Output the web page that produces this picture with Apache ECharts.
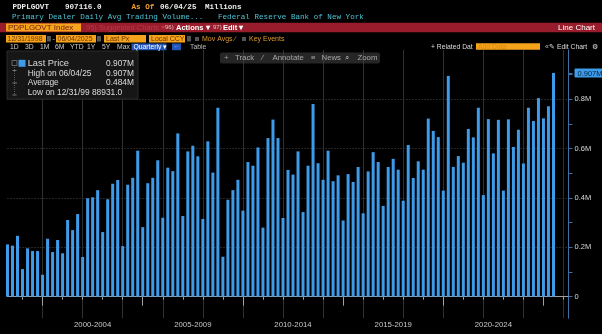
<!DOCTYPE html>
<html><head><meta charset="utf-8">
<script src="https://cdn.jsdelivr.net/npm/echarts@6/dist/echarts.min.js"></script>
<style>html,body{margin:0;padding:0;background:#000;overflow:hidden}#c{width:602px;height:334px}</style>
</head><body><div id="c"></div>
<script>
// ---- data ----
const quarters = [];
for (let y = 1998; y <= 2026; y++) for (let q = 1; q <= 4; q++) quarters.push(y + ' Q' + q);
quarters.length = 113; // 1998 Q1 .. 2026 Q1 (last three slots are empty)

// Quarterly average daily trading volume, millions of USD (reads as M on the axis)
const volumes = [
 0.212,0.207,0.247,0.112, 0.196,0.185,0.185,0.0889, 0.235,0.181,0.230,0.176, 0.311,0.270,0.335,0.161,
 0.399,0.403,0.432,0.262, 0.395,0.458,0.473,0.205, 0.454,0.482,0.592,0.282, 0.460,0.482,0.553,0.320,
 0.523,0.509,0.662,0.327, 0.589,0.612,0.569,0.315, 0.630,0.503,0.766,0.162, 0.393,0.432,0.474,0.349,
 0.546,0.531,0.605,0.280, 0.643,0.718,0.643,0.319, 0.514,0.495,0.589,0.343, 0.531,0.781,0.541,0.474,
 0.592,0.468,0.492,0.309, 0.497,0.465,0.526,0.338, 0.508,0.586,0.546,0.368, 0.526,0.559,0.515,0.389,
 0.615,0.481,0.549,0.515, 0.722,0.672,0.647,0.430, 0.895,0.526,0.570,0.543, 0.680,0.646,0.766,0.412,
 0.720,0.581,0.717,0.430, 0.719,0.607,0.677,0.540, 0.766,0.712,0.805,0.723, 0.772,0.907
];
const periodLabels = ['2000-2004','2005-2009','2010-2014','2015-2019','2020-2024'];
const yTickValues = [0,0.1,0.2,0.3,0.4,0.5,0.6,0.7,0.8,0.9];
const yLabelValues = [0,0.2,0.4,0.6,0.8];
const gridValues = [0,0.2,0.4,0.6,0.8];
const lastPrice = 0.907;
const legendRows = [
  ['Last Price','0.907M'],
  ['High on 06/04/25','0.907M'],
  ['Average','0.484M'],
  ['Low on 12/31/99 88931.0','']
];

// ---- chart ----
const barData = volumes.concat(new Array(quarters.length - volumes.length).fill(null));
const MONO = '"Liberation Mono", "DejaVu Sans Mono", monospace';
const SANS = '"Liberation Sans", Arial, sans-serif';
function T(text, x, y, fill, font, align, z) {
  return {type:'text', x:x, y:y, z:z||50, silent:true,
    style:{text:text, fill:fill, font:font, textAlign:align||'left', align:align||'left',
           textVerticalAlign:'middle', verticalAlign:'middle'}};
}
function R(x, y, w, h, fill, z, r, stroke) {
  return {type:'rect', z:z||40, silent:true, shape:{x:x, y:y, width:w, height:h, r:r||0},
    style:{fill:fill, stroke:stroke||null, lineWidth:stroke?1:0}};
}
function L(x1, y1, x2, y2, col, z, dash) {
  return {type:'line', z:z||50, silent:true, shape:{x1:x1,y1:y1,x2:x2,y2:y2},
    style:{stroke:col, lineWidth:1, lineDash:dash||null}};
}
const ORANGE = '#f6a31c';
const g = [];
// row 1
const m1 = 'bold 7.6px ' + MONO, m2 = '7.6px ' + MONO;
g.push(T('PDPLGOVT', 12.5, 6.7, '#eeeeee', m1));
g.push(T('907116.0', 65, 6.7, '#eeeeee', m1));
g.push(T('As Of', 131.5, 6.7, '#f0a030', m1));
g.push(T('06/04/25', 160, 6.7, '#eeeeee', m1));
g.push(T('Millions', 205, 6.7, '#eeeeee', m1));
// row 2
g.push(T('Primary Dealer Daily Avg Trading Volume...', 12, 17, '#4cc4d6', m2));
g.push(T('Federal Reserve Bank of New York', 218, 17, '#4cc4d6', m2));
// red bar
g.push(R(0, 22.7, 602, 9.6, '#981c2b'));
g.push(R(6, 23.5, 75, 8, ORANGE, 41));
g.push(T('PDPLGOVT Index', 8, 27.6, '#6e1a10', '8px ' + SANS));
g.push(T('95) Suggested Charts \u25BE', 86, 27.6, '#b63a48', '7.5px ' + SANS));
g.push(T('96)', 165, 27.6, '#e0c0c0', '6px ' + SANS));
g.push(T('Actions \u25BE', 176, 27.6, '#ffffff', 'bold 7.5px ' + SANS));
g.push(T('97)', 213, 27.6, '#e0c0c0', '6px ' + SANS));
g.push(T('Edit \u25BE', 223, 27.6, '#ffffff', 'bold 7.5px ' + SANS));
g.push(T('Line Chart', 595, 27.6, '#ffffff', '8px ' + SANS, 'right'));
// row 4 (date / price boxes)
const by = 35, bh = 7.5, ty = 38.9, bf = '7px ' + SANS;
g.push(R(6, by, 40, bh, ORANGE, 41)); g.push(T('12/31/1998', 7.5, ty, '#6b3300', bf));
g.push(R(47, by+1, 4, bh-2, '#555', 41));
g.push(T('-', 52.5, ty, '#cccccc', bf));
g.push(R(56, by, 40, bh, ORANGE, 41)); g.push(T('06/04/2025', 57.5, ty, '#6b3300', bf));
g.push(R(97, by+1, 4, bh-2, '#555', 41));
g.push(R(104, by, 42, bh, ORANGE, 41)); g.push(T('Last Px', 106, ty, '#6b3300', bf));
g.push(R(149, by, 36, bh, ORANGE, 41)); g.push(T('Local CCY', 151, ty, '#6b3300', bf));
g.push(R(187, by+1, 4, bh-2, '#555', 41));
g.push(R(195, by+2, 4, 4, '#555', 41)); g.push(T('Mov Avgs \u2215', 202, ty, '#e09a2a', bf));
g.push(R(242, by+2, 4, 4, '#555', 41)); g.push(T('Key Events', 249, ty, '#e09a2a', bf));
// row 5
const ry = 46.7, rf = '6.8px ' + SANS;
[['1D',10],['3D',25],['1M',40],['6M',55],['YTD',70],['1Y',87],['5Y',102],['Max',117]].forEach(function(a){
  g.push(T(a[0], a[1], ry, '#cfcfcf', rf));
});
g.push(R(131.5, 43.5, 35, 6.7, '#2356b8', 41)); g.push(T('Quarterly \u25BE', 133.5, ry, '#ffffff', rf));
g.push(R(172, 43.5, 9, 6.7, '#2356b8', 41)); g.push(T('\u2190', 173.5, ry, '#9ec2ff', '6px ' + SANS));
g.push(T('Table', 190, ry, '#bdbdbd', rf));
g.push(T('+ Related Dat', 431, ry, '#dddddd', rf));
g.push(R(476, 43.3, 64, 6.5, ORANGE, 41)); g.push(T('Add Data', 478, ry, '#d88a10', rf));
g.push(T('\u00AB', 545, ry, '#bdbdbd', rf));
g.push(T('\u270E Edit Chart', 549, ry, '#dddddd', rf));
g.push(T('\u2699', 598, ry, '#dddddd', rf, 'right'));
// in-chart toolbar
g.push(R(220, 52.5, 160, 11, 'rgba(70,70,70,0.55)', 40, 2));
const tb = '7.8px ' + SANS, tc = '#a8a8a8', tby = 57.8;
g.push(T('+', 224, tby, tc, tb)); g.push(T('Track', 235, tby, tc, tb));
g.push(T('\u2215', 262, tby, tc, tb)); g.push(T('Annotate', 272.5, tby, tc, tb));
g.push(T('\u2261', 311, tby, tc, tb)); g.push(T('News', 321.5, tby, tc, tb));
g.push(T('\u2315', 345, tby, tc, tb)); g.push(T('Zoom', 357.5, tby, tc, tb));
// legend box
g.push(R(7, 51, 131, 48, '#161616', 100, 0, '#2a2a2a'));
g.push(R(18.5, 59.8, 7, 7, '#3d9be9', 101));
g.push(R(12, 60.5, 5, 5, null, 101, 0, '#666'));
g.push(L(14.5, 67, 14.5, 95, '#555', 101, [1, 1]));
g.push(L(12.5, 70.5, 16.5, 70.5, '#777', 101));
g.push(L(12.5, 83, 17, 83, '#777', 101));
g.push(L(12.5, 95, 16.5, 95, '#777', 101));
const legY = [63.3, 73.3, 83, 92.4];
legendRows.forEach(function(r, i){
  g.push(T(r[0], 27.7, legY[i], '#dcdcdc', (i === 0 ? '9.3px ' : '8.4px ') + SANS, 'left', 102));
  if (r[1]) g.push(T(r[1], 134, legY[i], '#dcdcdc', '8.4px ' + SANS, 'right', 102));
});

const option = {
  backgroundColor: '#000000',
  animation: false,
  grid: {left: 7.5, right: 33.5, top: 50, bottom: 15.7, containLabel: false, outerBoundsMode: 'none'},
  xAxis: [{
    type: 'category', data: quarters, boundaryGap: false, position: 'bottom', gridIndex: 0,
    axisLine: {show: true, lineStyle: {color: '#a0a0a0', width: 1}},
    axisTick: {show: true, length: 3, interval: function(i){ return i % 4 === 3; }, lineStyle: {color: '#a0a0a0'}},
    axisLabel: {show: true, margin: 3, color: '#c8c8c8', fontSize: 7.8, fontFamily: SANS,
      interval: function(i){ return i % 20 === 17 && (i - 17) / 20 < periodLabels.length; },
      formatter: function(v, i){ return periodLabels[(i - 17) / 20] || ''; }},
    splitLine: {show: true, interval: function(i){ return i % 8 === 7; }, lineStyle: {color: '#303030', width: 1}}
  }, {
    type: 'category', data: quarters, boundaryGap: false, position: 'bottom', gridIndex: 0,
    axisLine: {show: false},
    axisTick: {show: true, length: 9, interval: function(i){ return i % 20 === 7; }, lineStyle: {color: '#a0a0a0'}},
    axisLabel: {show: false}, splitLine: {show: false}
  }],
  yAxis: [{
    type: 'value', position: 'right', min: -0.0875, max: 1.0, gridIndex: 0,
    axisLine: {show: true, lineStyle: {color: '#3f6fa6'}},
    axisTick: {show: true, length: 4, customValues: yTickValues.concat([lastPrice]), lineStyle: {color: '#3f6fa6'}},
    axisLabel: {show: true, margin: 6, color: '#d8d8d8', fontSize: 7.5, fontFamily: SANS,
      customValues: yLabelValues.concat([lastPrice]),
      formatter: function(v){
        if (Math.abs(v - lastPrice) < 1e-9) return '{tag|' + v.toFixed(3) + 'M}';
        return v === 0 ? '0' : (+v.toFixed(1)) + 'M';
      },
      rich: {tag: {backgroundColor: '#3d9be9', color: '#06243f', padding: [1, 1, 0, 3], fontSize: 7.5, fontFamily: SANS, borderRadius: 1}}},
    splitLine: {show: false}
  }, {
    type: 'value', position: 'right', min: -0.0875, max: 1.0, gridIndex: 0,
    axisLine: {show: false},
    axisTick: {show: false, customValues: gridValues},
    axisLabel: {show: false, customValues: gridValues},
    splitLine: {show: true, lineStyle: {color: '#4a4a4a', type: [1, 2], width: 1}}
  }],
  series: [{
    type: 'bar', data: barData, xAxisIndex: 0, yAxisIndex: 0, barWidth: 3, silent: true,
    itemStyle: {color: '#3d9be9'}, z: 3
  }],
  graphic: {elements: g}
};
const chart = echarts.init(document.getElementById('c'), null, {renderer: 'canvas'});
chart.setOption(option);
</script>
</body></html>
